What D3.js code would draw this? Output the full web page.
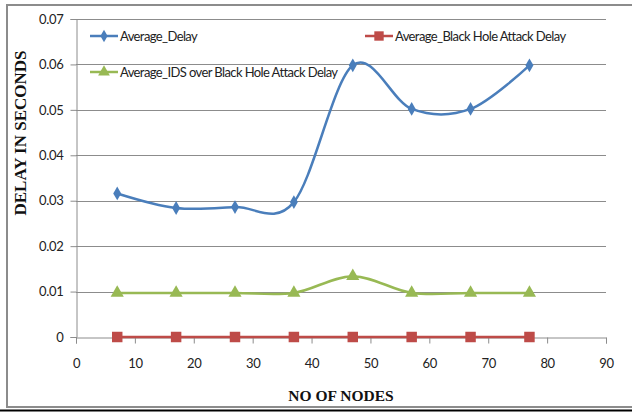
<!DOCTYPE html>
<html>
<head>
<meta charset="utf-8">
<script src="https://cdn.jsdelivr.net/npm/d3@7"></script>
<style>
  body { margin: 0; background: #fff; }
  .tick text { font-family: Lato, "DejaVu Sans Condensed", sans-serif; font-size: 13px; letter-spacing: -0.3px; fill: #222; }
</style>
</head>
<body>
<svg id="chart" width="632" height="412"></svg>
<script>
var nodes = [7, 17, 27, 37, 47, 57, 67, 77];
var avgDelay = [0.0316, 0.0284, 0.0286, 0.0297, 0.0598, 0.0502, 0.0502, 0.0598];
var blackHoleDelay = [0, 0, 0, 0, 0, 0, 0, 0];
var idsDelay = [0.0097, 0.0097, 0.0097, 0.0097, 0.0134, 0.0097, 0.0097, 0.0097];
var xTicks = [0, 10, 20, 30, 40, 50, 60, 70, 80, 90];
var yTicks = [0, 0.01, 0.02, 0.03, 0.04, 0.05, 0.06, 0.07];

var series = [
  {name: "Average_Delay", values: avgDelay, color: "#4a7ebb", symbol: d3.symbolDiamond, size: 55},
  {name: "Average_Black Hole Attack Delay", values: blackHoleDelay, color: "#be4b48", symbol: d3.symbolSquare, size: 110},
  {name: "Average_IDS over Black Hole Attack Delay", values: idsDelay, color: "#98b954", symbol: d3.symbolTriangle, size: 75}
];

var svg = d3.select("#chart"),
    margin = {top: 19, right: 26, bottom: 75, left: 76},
    width = +svg.attr("width") - margin.left - margin.right,
    height = +svg.attr("height") - margin.top - margin.bottom;

// outer frame
svg.append("rect")
    .attr("x", 7).attr("y", 5)
    .attr("width", 640).attr("height", 402)
    .attr("fill", "none").attr("stroke", "#8c8c8c").attr("stroke-width", 2);
svg.append("line")
    .attr("x1", 0).attr("x2", 632).attr("y1", 410.5).attr("y2", 410.5)
    .attr("stroke", "#000").attr("stroke-width", 2);

var g = svg.append("g").attr("transform", "translate(" + margin.left + "," + margin.top + ")");

var x = d3.scaleLinear().domain([0, 90]).range([0, width]);
var y = d3.scaleLinear().domain([0, 0.07]).range([height, 0]);

// gridlines
g.append("g")
  .selectAll("line")
  .data(yTicks.slice(1))
  .enter().append("line")
    .attr("x1", 0).attr("x2", width)
    .attr("y1", function(d) { return Math.round(y(d)) + 0.5; })
    .attr("y2", function(d) { return Math.round(y(d)) + 0.5; })
    .attr("stroke", "#8c8c8c");

var xAxis = g.append("g")
    .attr("transform", "translate(0," + (Math.round(height) + 0.5) + ")")
    .call(d3.axisBottom(x).tickValues(xTicks).tickSize(6).tickPadding(15).tickFormat(d3.format("d")));
xAxis.select(".domain").attr("stroke", "#8c8c8c");
xAxis.selectAll(".tick line").attr("stroke", "#8c8c8c");

var yAxis = g.append("g")
    .attr("transform", "translate(0.5,0)")
    .call(d3.axisLeft(y).tickValues(yTicks).tickSize(6).tickPadding(7).tickFormat(function(d) { return d === 0 ? "0" : d3.format(".2f")(d); }));
yAxis.select(".domain").attr("stroke", "#8c8c8c");
yAxis.selectAll(".tick line").attr("stroke", "#8c8c8c");

var line = d3.line()
    .x(function(d, i) { return x(nodes[i]); })
    .y(function(d) { return y(d); })
    .curve(d3.curveCatmullRom.alpha(0));

series.forEach(function(s) {
  g.append("path")
      .datum(s.values)
      .attr("fill", "none")
      .attr("stroke", s.color)
      .attr("stroke-width", 2.5)
      .attr("d", line);
  g.append("g")
    .selectAll("path")
    .data(s.values)
    .enter().append("path")
      .attr("transform", function(d, i) { return "translate(" + x(nodes[i]) + "," + y(d) + ")"; })
      .attr("d", d3.symbol().type(s.symbol).size(s.size))
      .attr("fill", s.color);
});

// legend
var legendPos = [[90, 36], [365, 36], [90, 72]];
var legend = svg.append("g")
    .attr("font-family", "Lato, DejaVu Sans Condensed, sans-serif")
    .attr("font-size", 13)
    .attr("letter-spacing", -0.6)
  .selectAll("g")
  .data(series)
  .enter().append("g")
    .attr("transform", function(d, i) { return "translate(" + legendPos[i][0] + "," + legendPos[i][1] + ")"; });

legend.append("line")
    .attr("x1", 0).attr("x2", 28)
    .attr("stroke", function(d) { return d.color; })
    .attr("stroke-width", 2.5);
legend.append("path")
    .attr("transform", "translate(14,0)")
    .attr("d", function(d) { return d3.symbol().type(d.symbol).size(d.size * 0.8)(); })
    .attr("fill", function(d) { return d.color; });
legend.append("text")
    .attr("x", 30)
    .attr("dy", "0.35em")
    .attr("fill", "#222")
    .text(function(d) { return d.name; });

// axis titles
svg.append("text")
    .attr("transform", "translate(26,133) rotate(-90)")
    .attr("text-anchor", "middle")
    .attr("font-family", "Liberation Serif, serif")
    .attr("font-weight", "bold")
    .attr("font-size", 17)
    .attr("fill", "#111")
    .text("DELAY IN SECONDS");

svg.append("text")
    .attr("x", 341)
    .attr("y", 401)
    .attr("text-anchor", "middle")
    .attr("font-family", "Liberation Serif, serif")
    .attr("font-weight", "bold")
    .attr("font-size", 15.5)
    .attr("fill", "#111")
    .text("NO OF NODES");
</script>
</body>
</html>
